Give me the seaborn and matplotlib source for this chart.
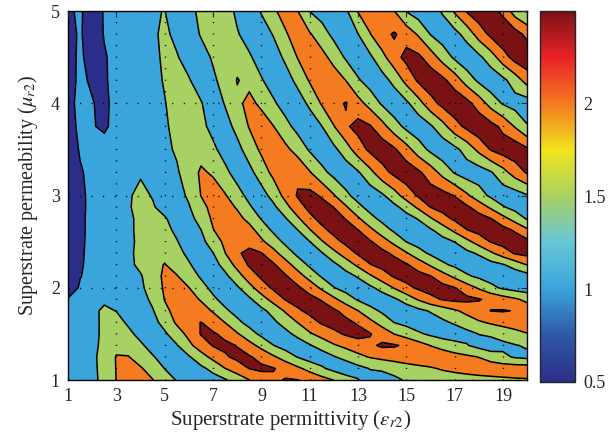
import numpy as np
import matplotlib
matplotlib.use("Agg")
import matplotlib.pyplot as plt
import seaborn as sns

sns.set_style("white")
plt.rcParams['font.family'] = ['Liberation Serif', 'DejaVu Serif']
plt.rcParams['mathtext.fontset'] = 'stix'

# grid (superstrate permittivity / permeability)
eps_r2 = [1.0, 1.5, 2.0, 2.5, 3.0, 3.5, 4.0, 4.5, 5.0, 5.5, 6.0, 6.5, 7.0, 7.5,
          8.0, 8.5, 9.0, 9.5, 10.0, 10.5, 11.0, 11.5, 12.0, 12.5, 13.0, 13.5,
          14.0, 14.5, 15.0, 15.5, 16.0, 16.5, 17.0, 17.5, 18.0, 18.5, 19.0,
          19.5, 20.0]
mu_r2 = [1.0, 1.125, 1.25, 1.375, 1.5, 1.625, 1.75, 1.875, 2.0, 2.125, 2.25,
         2.375, 2.5, 2.625, 2.75, 2.875, 3.0, 3.25, 3.5, 3.75, 4.0, 4.25, 4.5,
         4.75, 5.0]

# values, one row per mu_r2 (eps_r2 = 1 ... 20)
mu_1000 = [1.25, 1.2, 1.36, 1.66, 2.01, 2.2, 2.21, 2.02, 1.74, 1.47, 1.31, 1.15, 1.3, 1.45,
           1.7, 1.99, 2.21, 2.42, 2.53, 2.51, 2.38, 2.19, 1.99, 1.76, 1.52, 1.31, 1.19, 1.39,
           1.55, 1.62, 1.68, 1.73, 1.77, 1.81, 1.85, 1.88, 1.91, 1.94, 1.96]
mu_1125 = [1.25, 1.2, 1.38, 1.67, 2.02, 2.15, 2.05, 1.78, 1.49, 1.31, 1.19, 1.39, 1.64, 1.99,
           2.26, 2.51, 2.6, 2.53, 2.34, 2.1, 1.84, 1.57, 1.35, 1.15, 1.35, 1.52, 1.6, 1.69,
           1.78, 1.86, 1.95, 2.05, 2.12, 2.18, 2.22, 2.25, 2.27, 2.28, 2.28]
mu_1250 = [1.25, 1.2, 1.4, 1.67, 2.03, 2.02, 1.77, 1.54, 1.31, 1.22, 1.45, 1.8, 2.14, 2.44,
           2.61, 2.55, 2.34, 2.07, 1.78, 1.48, 1.27, 1.24, 1.46, 1.67, 1.88, 2.03, 2.12, 2.2,
           2.29, 2.37, 2.34, 2.26, 2.17, 2.09, 1.99, 1.82, 1.62, 1.44, 1.38]
mu_1375 = [1.28, 1.2, 1.38, 1.62, 1.86, 1.81, 1.57, 1.33, 1.22, 1.47, 1.88, 2.25, 2.53, 2.6,
           2.48, 2.17, 1.85, 1.51, 1.29, 1.23, 1.46, 1.7, 1.95, 2.12, 2.26, 2.41, 2.58, 2.55,
           2.42, 2.21, 1.99, 1.84, 1.69, 1.53, 1.34, 1.16, 1.36, 1.47, 1.56]
mu_1500 = [1.3, 1.22, 1.38, 1.59, 1.8, 1.6, 1.37, 1.18, 1.43, 1.76, 2.14, 2.53, 2.56, 2.37,
           2.05, 1.7, 1.39, 1.17, 1.36, 1.63, 1.94, 2.17, 2.38, 2.56, 2.67, 2.53, 2.28, 1.99,
           1.79, 1.58, 1.41, 1.26, 1.2, 1.35, 1.51, 1.62, 1.74, 1.86, 1.98]
mu_1625 = [1.25, 1.22, 1.38, 1.59, 1.65, 1.43, 1.19, 1.35, 1.66, 2.08, 2.37, 2.51, 2.26, 1.99,
           1.61, 1.34, 1.18, 1.41, 1.69, 2.01, 2.31, 2.56, 2.69, 2.61, 2.44, 2.13, 1.81, 1.49,
           1.35, 1.2, 1.26, 1.41, 1.57, 1.76, 1.94, 2.06, 2.15, 2.22, 2.28]
mu_1750 = [1.22, 1.25, 1.4, 1.58, 1.49, 1.28, 1.24, 1.46, 1.88, 2.17, 2.42, 2.2, 1.96, 1.58,
           1.34, 1.17, 1.38, 1.66, 2.06, 2.42, 2.62, 2.73, 2.58, 2.34, 2.01, 1.67, 1.42, 1.26,
           1.21, 1.37, 1.54, 1.73, 1.93, 2.13, 2.33, 2.51, 2.53, 2.48, 2.29]
mu_1875 = [1.02, 1.12, 1.25, 1.42, 1.3, 1.2, 1.3, 1.61, 2.02, 2.22, 2.18, 1.96, 1.59, 1.33,
           1.19, 1.42, 1.78, 2.19, 2.53, 2.69, 2.65, 2.46, 2.11, 1.75, 1.44, 1.25, 1.22, 1.42,
           1.71, 2.05, 2.35, 2.54, 2.62, 2.61, 2.53, 2.4, 2.23, 2.07, 1.88]
mu_2000 = [0.85, 1.03, 1.12, 1.15, 1.18, 1.25, 1.4, 1.74, 2.06, 2.17, 2.01, 1.67, 1.37, 1.18,
           1.43, 1.83, 2.27, 2.58, 2.75, 2.58, 2.3, 1.91, 1.52, 1.31, 1.19, 1.4, 1.68, 2.03,
           2.36, 2.58, 2.71, 2.65, 2.52, 2.24, 1.94, 1.63, 1.42, 1.3, 1.22]
mu_2125 = [0.82, 0.99, 1.08, 1.12, 1.15, 1.25, 1.45, 1.81, 2.08, 2.03, 1.74, 1.44, 1.17, 1.39,
           1.78, 2.25, 2.58, 2.75, 2.55, 2.22, 1.82, 1.45, 1.22, 1.31, 1.55, 1.92, 2.27, 2.55,
           2.69, 2.66, 2.52, 2.22, 1.9, 1.57, 1.41, 1.29, 1.17, 1.18, 1.3]
mu_2250 = [0.8, 0.97, 1.08, 1.1, 1.2, 1.38, 1.62, 1.86, 2.02, 1.81, 1.55, 1.27, 1.31, 1.67,
           2.17, 2.56, 2.75, 2.56, 2.2, 1.78, 1.41, 1.16, 1.39, 1.72, 2.11, 2.48, 2.64, 2.7,
           2.55, 2.28, 1.94, 1.59, 1.4, 1.26, 1.18, 1.32, 1.46, 1.72, 2.02]
mu_2375 = [0.8, 0.96, 1.08, 1.12, 1.22, 1.4, 1.64, 1.86, 1.87, 1.65, 1.39, 1.2, 1.49, 1.99,
           2.43, 2.64, 2.52, 2.16, 1.75, 1.38, 1.19, 1.46, 1.86, 2.25, 2.56, 2.72, 2.63, 2.41,
           2.05, 1.68, 1.42, 1.26, 1.21, 1.37, 1.57, 1.92, 2.25, 2.55, 2.65]
mu_2500 = [0.8, 0.95, 1.08, 1.12, 1.2, 1.38, 1.62, 1.85, 1.76, 1.53, 1.24, 1.35, 1.75, 2.11,
           2.34, 2.32, 2.09, 1.75, 1.38, 1.21, 1.49, 1.95, 2.35, 2.61, 2.72, 2.55, 2.24, 1.86,
           1.49, 1.31, 1.16, 1.33, 1.51, 1.86, 2.22, 2.53, 2.68, 2.77, 2.62]
mu_2625 = [0.8, 0.95, 1.07, 1.12, 1.2, 1.4, 1.63, 1.85, 1.64, 1.4, 1.2, 1.49, 1.98, 2.24,
           2.42, 2.17, 1.79, 1.41, 1.2, 1.49, 1.96, 2.39, 2.63, 2.69, 2.51, 2.13, 1.73, 1.42,
           1.24, 1.25, 1.43, 1.73, 2.11, 2.48, 2.65, 2.8, 2.67, 2.44, 2.09]
mu_2750 = [0.8, 0.95, 1.07, 1.12, 1.2, 1.4, 1.63, 1.74, 1.55, 1.27, 1.33, 1.7, 2.08, 2.31,
           2.15, 1.86, 1.47, 1.16, 1.46, 1.92, 2.38, 2.63, 2.68, 2.48, 2.07, 1.65, 1.37, 1.18,
           1.32, 1.53, 1.94, 2.32, 2.59, 2.76, 2.68, 2.51, 2.16, 1.8, 1.45]
mu_2875 = [0.8, 0.95, 1.06, 1.1, 1.2, 1.45, 1.67, 1.55, 1.31, 1.22, 1.46, 1.86, 2.14, 2.2,
           1.95, 1.57, 1.23, 1.39, 1.84, 2.31, 2.62, 2.69, 2.49, 2.06, 1.62, 1.34, 1.17, 1.38,
           1.68, 2.1, 2.51, 2.67, 2.75, 2.58, 2.29, 1.91, 1.54, 1.34, 1.17]
mu_3000 = [0.78, 0.96, 1.05, 1.1, 1.2, 1.45, 1.62, 1.47, 1.22, 1.31, 1.58, 2.01, 2.2, 2.04,
           1.7, 1.35, 1.29, 1.68, 2.16, 2.54, 2.66, 2.44, 2.04, 1.6, 1.33, 1.2, 1.42, 1.79,
           2.22, 2.56, 2.74, 2.68, 2.48, 2.09, 1.7, 1.41, 1.22, 1.26, 1.46]
mu_3250 = [0.8, 0.97, 1.08, 1.12, 1.2, 1.35, 1.45, 1.35, 1.25, 1.43, 1.78, 2.06, 1.95, 1.62,
           1.29, 1.35, 1.75, 2.13, 2.44, 2.4, 2.04, 1.65, 1.34, 1.2, 1.44, 1.86, 2.32, 2.62,
           2.8, 2.59, 2.26, 1.84, 1.46, 1.25, 1.25, 1.45, 1.82, 2.23, 2.55]
mu_3500 = [0.82, 1.03, 1.08, 1.12, 1.15, 1.2, 1.22, 1.27, 1.38, 1.57, 1.82, 1.85, 1.6, 1.3,
           1.34, 1.74, 2.09, 2.33, 2.12, 1.81, 1.44, 1.18, 1.38, 1.77, 2.26, 2.61, 2.79, 2.57,
           2.19, 1.74, 1.39, 1.16, 1.37, 1.69, 2.13, 2.54, 2.73, 2.81, 2.58]
mu_3750 = [0.85, 1.08, 1.02, 0.95, 1.1, 1.18, 1.2, 1.3, 1.43, 1.65, 1.87, 1.63, 1.35, 1.29,
           1.66, 2.03, 2.2, 2.01, 1.65, 1.34, 1.23, 1.49, 1.98, 2.43, 2.66, 2.54, 2.17, 1.72,
           1.37, 1.18, 1.43, 1.83, 2.3, 2.62, 2.85, 2.66, 2.39, 1.96, 1.53]
mu_4000 = [0.87, 1.12, 1.02, 0.9, 1.15, 1.17, 1.2, 1.32, 1.48, 1.68, 1.73, 1.54, 1.16, 1.54,
           1.92, 2.1, 1.92, 1.57, 1.29, 1.28, 1.59, 2.05, 2.37, 2.53, 2.18, 1.82, 1.43, 1.16,
           1.4, 1.81, 2.31, 2.64, 2.85, 2.66, 2.27, 1.81, 1.45, 1.3, 1.25]
mu_4250 = [0.87, 1.07, 0.95, 0.97, 1.08, 1.15, 1.22, 1.35, 1.54, 1.72, 1.54, 1.23, 1.41, 1.69,
           2.02, 1.9, 1.54, 1.27, 1.3, 1.62, 2.05, 2.29, 2.27, 1.99, 1.56, 1.27, 1.3, 1.65,
           2.16, 2.58, 2.82, 2.62, 2.26, 1.78, 1.4, 1.15, 1.38, 1.74, 2.21]
mu_4500 = [0.88, 1.06, 0.85, 0.97, 1.1, 1.15, 1.2, 1.35, 1.6, 1.54, 1.28, 1.3, 1.56, 1.8,
           1.86, 1.56, 1.29, 1.28, 1.59, 2.02, 2.24, 2.17, 1.82, 1.43, 1.15, 1.41, 1.85, 2.32,
           2.64, 2.6, 2.25, 1.8, 1.41, 1.15, 1.39, 1.77, 2.28, 2.7, 2.85]
mu_4750 = [0.9, 1.04, 0.8, 1.02, 1.1, 1.15, 1.22, 1.42, 1.6, 1.37, 1.25, 1.54, 1.75, 1.75,
           1.54, 1.3, 1.26, 1.53, 1.96, 2.18, 2.05, 1.71, 1.37, 1.21, 1.49, 1.98, 2.36, 2.55,
           2.31, 1.94, 1.48, 1.23, 1.33, 1.69, 2.22, 2.62, 2.9, 2.7, 2.37]
mu_5000 = [0.95, 1.05, 0.8, 1.03, 1.1, 1.15, 1.25, 1.47, 1.51, 1.19, 1.35, 1.62, 1.89, 1.73,
           1.4, 1.22, 1.54, 1.94, 2.15, 2.01, 1.49, 1.3, 1.2, 1.41, 2.03, 2.28, 2.26, 2.01,
           1.48, 1.24, 1.29, 1.55, 2.07, 2.54, 2.81, 2.73, 2.37, 1.76, 1.45]

levels = [0.5, 1.0, 1.5, 2.0, 2.5, 3.0]
cbar_ticks = [0.5, 1, 1.5, 2]

Z = np.array([mu_1000, mu_1125, mu_1250, mu_1375, mu_1500, mu_1625, mu_1750,
              mu_1875, mu_2000, mu_2125, mu_2250, mu_2375, mu_2500, mu_2625,
              mu_2750, mu_2875, mu_3000, mu_3250, mu_3500, mu_3750, mu_4000,
              mu_4250, mu_4500, mu_4750, mu_5000])

# jet-like palette as printed in the paper
jet_like = ['#2b2e88', '#2f58a8', '#3aa4dc', '#66c6d8', '#a8d163',
            '#f1e41c', '#f47b20', '#ea2228', '#7a1214']
cmap = sns.blend_palette(jet_like, n_colors=64, as_cmap=True)
fill_colors = ['#2b2e88', '#3aa4dc', '#a8d163', '#f47b20', '#7a1214']

fig = plt.figure(figsize=(6.08, 4.45), dpi=100)
ax = fig.add_axes([0.112, 0.146, 0.755, 0.829])
cax = fig.add_axes([0.888, 0.142, 0.058, 0.833])

ax.contourf(eps_r2, mu_r2, Z, levels=levels, colors=fill_colors)
ax.contour(eps_r2, mu_r2, Z, levels=levels[1:-1], colors='k', linewidths=1.1)

ax.set_xlim(1, 20)
ax.set_ylim(1, 5)
ax.set_xticks([1, 3, 5, 7, 9, 11, 13, 15, 17, 19])
ax.set_yticks([1, 2, 3, 4, 5])
ax.grid(True, color='k', linestyle=(0, (0.8, 7.5)), linewidth=1.0)
ax.set_axisbelow(False)
ax.tick_params(direction='in', top=True, right=True, length=4, width=0.8,
               labelsize=13, pad=6)
for s in ax.spines.values():
    s.set_linewidth(1.0)
    s.set_color('k')
ax.set_xlabel(r'Superstrate permittivity ($\varepsilon_{r2}$)', fontsize=15, labelpad=3)
ax.set_ylabel(r'Superstrate permeability ($\mu_{r2}$)', fontsize=14.5, labelpad=8)
ax.xaxis.set_label_coords(0.485, -0.075)

sm = plt.cm.ScalarMappable(norm=plt.Normalize(0.5, 2.5), cmap=cmap)
cb = fig.colorbar(sm, cax=cax, ticks=cbar_ticks)
cb.ax.set_yticklabels(['0.5', '1', '1.5', '2'])
cb.ax.tick_params(direction='in', left=True, right=True, length=4, width=0.8,
                  labelsize=13, pad=6)
cb.outline.set_linewidth(1.0)

fig.savefig('out.png', dpi=100)
